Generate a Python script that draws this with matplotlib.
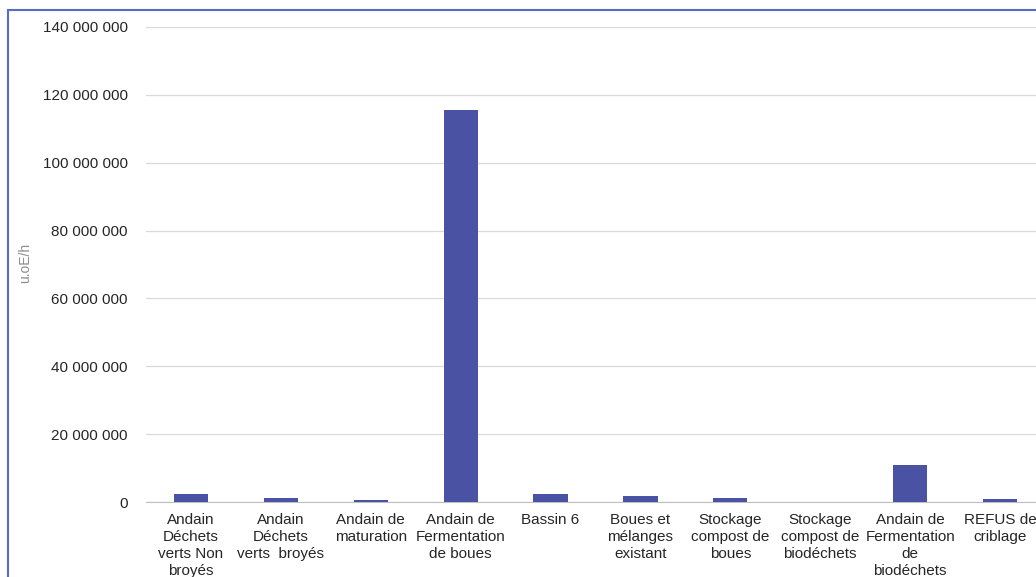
import numpy as np
import matplotlib.pyplot as plt
from matplotlib.patches import Rectangle
from matplotlib.ticker import FuncFormatter

plt.rcParams['font.family'] = ['Liberation Sans', 'DejaVu Sans']

# Sources d'odeurs et débits d'odeur (u.oE/h)
sources = [
    "Andain\nDéchets\nverts Non\nbroyés",
    "Andain\nDéchets\nverts  broyés",
    "Andain de\nmaturation",
    "Andain de\nFermentation\nde boues",
    "Bassin 6",
    "Boues et\nmélanges\nexistant",
    "Stockage\ncompost de\nboues",
    "Stockage\ncompost de\nbiodéchets",
    "Andain de\nFermentation\nde\nbiodéchets",
    "REFUS de\ncriblage",
]
debits = [2400000, 1300000, 700000, 115500000, 2400000,
          1800000, 1200000, 50000, 10900000, 900000]

fig = plt.figure(figsize=(10.36, 5.77), dpi=100)
ax = fig.add_axes([146 / 1036, 75 / 577, 899 / 1036, 475 / 577])

x = np.arange(len(sources))
ax.bar(x, debits, width=0.38, color='#4a53a3', zorder=3)

ax.set_xlim(-0.5, len(sources) - 0.5)
ax.set_ylim(0, 140000000)
ax.set_yticks(np.arange(0, 140000001, 20000000))
ax.yaxis.set_major_formatter(FuncFormatter(lambda v, p: f"{int(v):,}".replace(",", " ")))
ax.grid(axis='y', color='#d9d9d9', linewidth=0.9, zorder=0)
for s in ['top', 'right', 'left']:
    ax.spines[s].set_visible(False)
ax.spines['bottom'].set_color('#bfbfbf')
ax.tick_params(axis='y', length=0, pad=13, labelsize=11, colors='#262626')
ax.tick_params(axis='x', length=0, pad=8, labelsize=11, colors='#262626')
ax.set_xticks(x)
ax.set_xticklabels(sources, linespacing=1.28)

fig.text(25 / 1036, 1 - 263 / 577, "u.oE/h", rotation=90, ha='center', va='center',
         fontsize=10, color='#8c8c8c')

# cadre du graphique
fig.patches.append(Rectangle((8 / 1036, -0.1), 1.2, 1 - 10 / 577 + 0.1,
                             transform=fig.transFigure, fill=False,
                             edgecolor='#5a6bc4', linewidth=1.5))

fig.savefig("out.png", dpi=100)
